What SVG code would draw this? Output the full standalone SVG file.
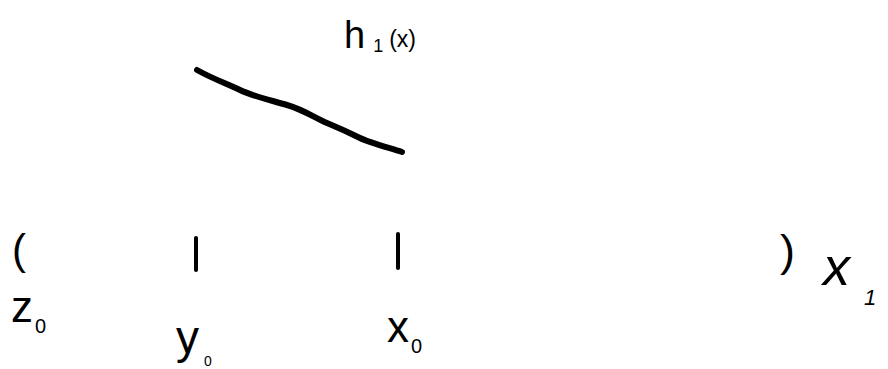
<svg xmlns="http://www.w3.org/2000/svg" width="888" height="369" viewBox="0 0 888 369">
<style>
text{font-family:"Liberation Sans","DejaVu Sans",sans-serif;fill:#000}
.ink{fill:none;stroke:#000;stroke-linecap:round;stroke-linejoin:round}
</style>
<rect width="888" height="369" fill="#fff"/>
<g id="label-h1x">
<text x="344" y="48" font-size="38">h<tspan font-size="18" dx="8" dy="4">1</tspan><tspan font-size="23" dx="6" dy="-5">(x)</tspan></text>
</g>
<g id="connectors">
<path class="ink" stroke-width="6" d="M197,70 C215,80 228,84 240,90 S270,100 287,105 S315,118 327,123 S350,133 360,138 S390,148 402,152"/>
</g>
<g id="open-paren">
<text x="12" y="264" font-size="42">(</text>
</g>
<g id="tick-y0">
<line class="ink" stroke-width="4" x1="196" y1="238" x2="196" y2="270"/>
</g>
<g id="tick-x0">
<line class="ink" stroke-width="4" x1="398" y1="234" x2="398" y2="268"/>
</g>
<g id="close-paren-x1">
<text x="780" y="266" font-size="45">)</text>
<text x="823" y="285" font-size="54" font-style="italic">x<tspan font-size="22" dx="14" dy="20">1</tspan></text>
</g>
<g id="label-z0">
<text x="11" y="322" font-size="44">z<tspan font-size="20" dx="2" dy="11">0</tspan></text>
</g>
<g id="label-y0">
<text x="176" y="353" font-size="46">y<tspan font-size="14" dx="5" dy="13">0</tspan></text>
</g>
<g id="label-x0">
<text x="387" y="342" font-size="44">x<tspan font-size="20" dx="2" dy="11">0</tspan></text>
</g>
</svg>
